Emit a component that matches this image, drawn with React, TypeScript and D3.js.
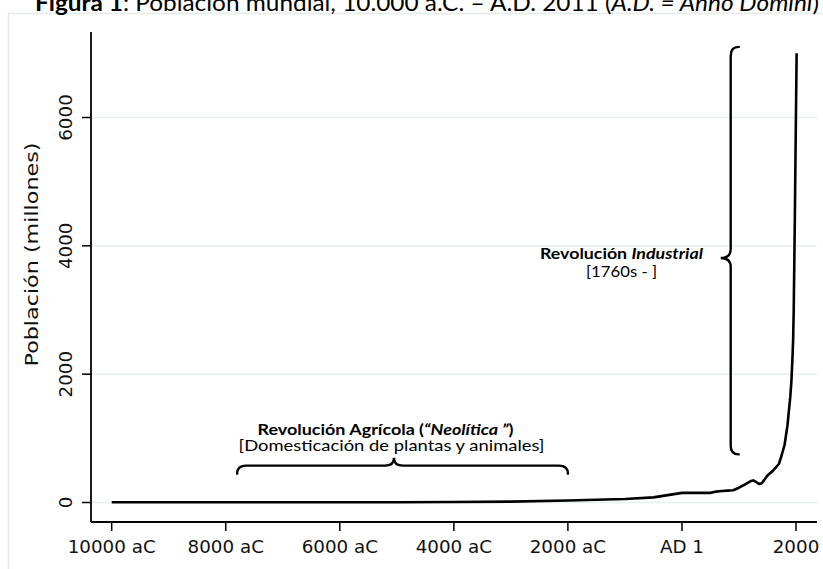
import React from "react";
import * as d3 from "d3";

const years = [-10000, -9000, -8000, -7000, -6000, -5000, -4000, -3000, -2000, -1000, -500, 1, 200, 400, 500, 600, 700, 800, 900, 1000, 1100, 1200, 1250, 1300, 1350, 1400, 1500, 1600, 1700, 1750, 1800, 1850, 1900, 1920, 1940, 1950, 1960, 1970, 1980, 1990, 2000, 2011];
const population = [4, 4, 5, 5, 5, 5, 7, 14, 32, 55, 80, 150, 150, 150, 150, 170, 180, 185, 190, 230, 280, 330, 345, 320, 290, 300, 420, 500, 600, 740, 900, 1200, 1650, 1900, 2300, 2550, 3000, 3700, 4450, 5300, 6100, 7000];

const xTickValues = [-10000, -8000, -6000, -4000, -2000, 0, 2000];
const xTickLabels = ["10000 aC", "8000 aC", "6000 aC", "4000 aC", "2000 aC", "AD 1", "2000"];
const yTickValues = [0, 2000, 4000, 6000];
const yTickLabels = ["0", "2000", "4000", "6000"];

// annotation anchors in data units
const agriBrace = { from: -7800, to: -2000, tip: -5050, value: 450 };
const indBrace = { year: 855, from: 7100, to: 750, tip: 3810 };

const W = 823;
const H = 569;

export default function App() {
  const x = d3.scaleLinear().domain([-10000, 2000]).range([111.7, 796]);
  const y = d3.scaleLinear().domain([0, 6000]).range([502.5, 117.5]);
  const pts = years.map((yr, i) => [yr, population[i]] as [number, number]);
  const line = d3.line<[number, number]>().x((d) => x(d[0])).y((d) => y(d[1]));

  const axLeft = 91;
  const axRight = 817;
  const axBottom = 522;
  const axTop = 32;

  // horizontal brace pointing up
  const hx1 = x(agriBrace.from);
  const hx2 = x(agriBrace.to);
  const htx = x(agriBrace.tip);
  const hyEnd = y(agriBrace.value);
  const hLine = hyEnd - 8;
  const hTip = hLine - 8;
  const hp = d3.path();
  hp.moveTo(hx1, hyEnd);
  hp.quadraticCurveTo(hx1, hLine, hx1 + 9, hLine);
  hp.lineTo(htx - 9, hLine);
  hp.quadraticCurveTo(htx, hLine, htx, hTip);
  hp.quadraticCurveTo(htx, hLine, htx + 9, hLine);
  hp.lineTo(hx2 - 9, hLine);
  hp.quadraticCurveTo(hx2, hLine, hx2, hyEnd);

  // vertical brace pointing left
  const vxEnd = x(indBrace.year) + 8;
  const vLine = vxEnd - 8;
  const vTip = vLine - 10;
  const vy1 = y(indBrace.from);
  const vy2 = y(indBrace.to);
  const vty = y(indBrace.tip);
  const vp = d3.path();
  vp.moveTo(vxEnd, vy1);
  vp.quadraticCurveTo(vLine, vy1, vLine, vy1 + 9);
  vp.lineTo(vLine, vty - 9);
  vp.quadraticCurveTo(vLine, vty, vTip, vty);
  vp.quadraticCurveTo(vLine, vty, vLine, vty + 9);
  vp.lineTo(vLine, vy2 - 9);
  vp.quadraticCurveTo(vLine, vy2, vxEnd, vy2);

  const tickFont = "'DejaVu Sans', sans-serif";
  const noteFont = "Lato, 'Open Sans', sans-serif";

  return (
    <svg width={W} height={H} style={{ position: "absolute", left: 0, top: 0, background: "#fff" }}>
      <rect x={8.5} y={13.5} width={900} height={700} fill="#fff" stroke="#e4ecea" strokeWidth={1.5} />
      <text x={35} y={11} fontFamily={noteFont} fontSize={23} fill="#000" textLength={784} lengthAdjust="spacingAndGlyphs">
        <tspan fontWeight="bold">Figura 1</tspan>
        <tspan>: Población mundial, 10.000 a.C. – A.D. 2011 (</tspan>
        <tspan fontStyle="italic">A.D. = Anno Domini</tspan>
        <tspan>)</tspan>
      </text>
      {yTickValues.map((v) => (
        <line key={"g" + v} x1={axLeft} x2={axRight} y1={y(v)} y2={y(v)} stroke="#e8f0ee" strokeWidth={1.5} />
      ))}
      <line x1={axLeft} x2={axLeft} y1={axTop} y2={axBottom} stroke="#000" strokeWidth={1.8} />
      <line x1={axLeft} x2={axRight} y1={axBottom} y2={axBottom} stroke="#000" strokeWidth={1.8} />
      {yTickValues.map((v, i) => (
        <g key={"yt" + v}>
          <line x1={axLeft - 9} x2={axLeft} y1={y(v)} y2={y(v)} stroke="#000" strokeWidth={1.5} />
          <text
            transform={`translate(71.5,${y(v)}) rotate(-90)`}
            textAnchor="middle"
            fontFamily={tickFont}
            fontSize={18.3}
            fill="#111"
          >
            {yTickLabels[i]}
          </text>
        </g>
      ))}
      {xTickValues.map((v, i) => (
        <g key={"xt" + v}>
          <line x1={x(v)} x2={x(v)} y1={axBottom} y2={axBottom + 9} stroke="#000" strokeWidth={1.5} />
          <text x={x(v)} y={552.5} textAnchor="middle" fontFamily={tickFont} fontSize={18.3} fill="#111">
            {xTickLabels[i]}
          </text>
        </g>
      ))}
      <text
        transform="translate(37.5,254.5) rotate(-90)"
        textAnchor="middle"
        fontFamily={tickFont}
        fontSize={18.3}
        fill="#111"
        textLength={224}
        lengthAdjust="spacingAndGlyphs"
      >
        Población (millones)
      </text>
      <path d={line(pts) || ""} fill="none" stroke="#000" strokeWidth={2.6} strokeLinejoin="round" />
      <path d={hp.toString()} fill="none" stroke="#000" strokeWidth={2.4} strokeLinecap="round" />
      <path d={vp.toString()} fill="none" stroke="#000" strokeWidth={2.4} strokeLinecap="round" />
      <text x={385.5} y={434.5} textAnchor="middle" fontFamily={noteFont} fontSize={16} fontWeight="bold" fill="#000" textLength={256} lengthAdjust="spacingAndGlyphs">
        Revolución Agrícola (<tspan fontStyle="italic">“Neolítica ”</tspan>)
      </text>
      <text x={391.5} y={450.5} textAnchor="middle" fontFamily={noteFont} fontSize={16} fill="#000" textLength={306} lengthAdjust="spacingAndGlyphs">
        [Domesticación de plantas y animales]
      </text>
      <text x={621.5} y={259} textAnchor="middle" fontFamily={noteFont} fontSize={16} fontWeight="bold" fill="#000" textLength={163} lengthAdjust="spacingAndGlyphs">
        Revolución <tspan fontStyle="italic">Industrial</tspan>
      </text>
      <text x={621.5} y={277} textAnchor="middle" fontFamily={noteFont} fontSize={16} fill="#000" textLength={71} lengthAdjust="spacingAndGlyphs">
        [1760s - ]
      </text>
    </svg>
  );
}
